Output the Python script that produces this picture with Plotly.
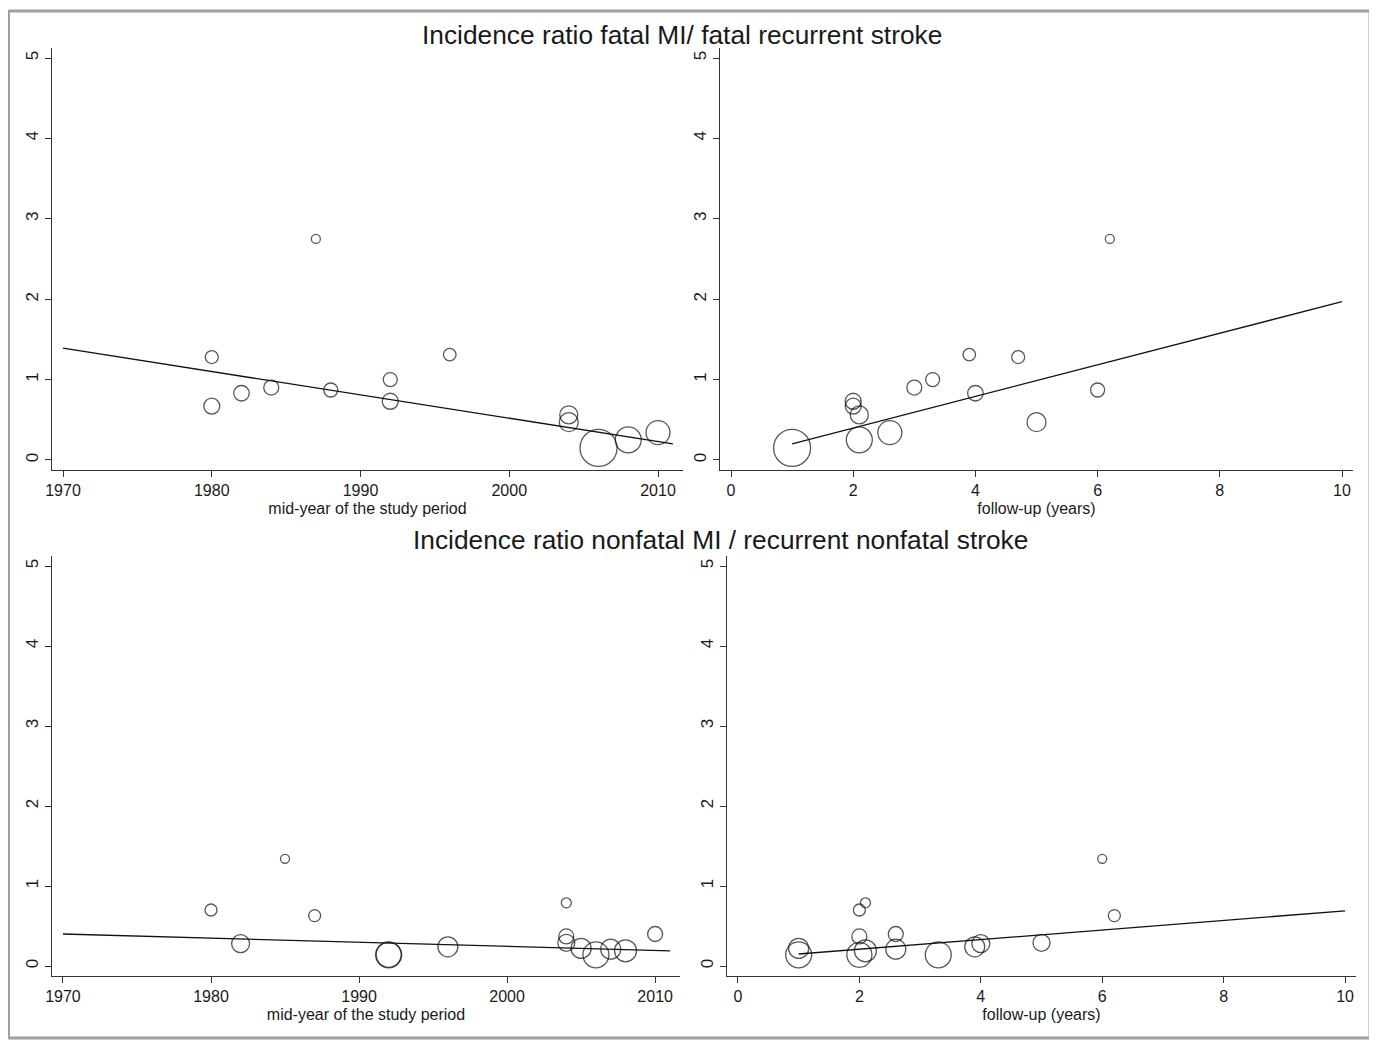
import plotly.graph_objects as go

# ---- Fatal MI / fatal recurrent stroke (14 studies) ----
fatal_midyear = [1980, 1980, 1982, 1984, 1987, 1988, 1992, 1992, 1996, 2004, 2004, 2006, 2008, 2010]
fatal_followup = [4.7, 2.0, 4.0, 3.0, 6.2, 6.0, 3.3, 2.0, 3.9, 2.1, 5.0, 1.0, 2.1, 2.6]
fatal_ratio = [1.28, 0.67, 0.83, 0.90, 2.75, 0.87, 1.00, 0.73, 1.31, 0.56, 0.47, 0.15, 0.25, 0.34]
fatal_weight = [13, 16, 15.5, 15, 9, 14, 14, 16, 12.5, 18, 19, 37, 26, 24]

# ---- Nonfatal MI / recurrent nonfatal stroke (15 studies) ----
nonfatal_midyear = [1980, 1982, 1985, 1987, 1992, 1992, 1996, 2004, 2004, 2004, 2005, 2006, 2007, 2008, 2010]
nonfatal_followup = [2.0, 4.0, 6.0, 6.2, 2.0, 3.3, 3.9, 2.1, 2.0, 5.0, 1.0, 1.0, 2.6, 2.1, 2.6]
nonfatal_ratio = [0.70, 0.28, 1.34, 0.63, 0.14, 0.14, 0.24, 0.79, 0.37, 0.29, 0.22, 0.14, 0.21, 0.19, 0.40]
nonfatal_weight = [12, 18, 9, 12, 25, 26, 20, 10, 15, 17, 20, 26, 20, 22, 15]

# ---- fitted meta-regression lines ----
fit_year_x = [1970, 2011]
fit_fatal_year_y = [1.39, 0.20]
fit_nonfatal_year_y = [0.40, 0.19]
fit_fu_x = [1, 10]
fit_fatal_fu_y = [0.20, 1.97]
fit_nonfatal_fu_y = [0.15, 0.69]

year_ticks = [1970, 1980, 1990, 2000, 2010]
fu_ticks = [0, 2, 4, 6, 8, 10]
y_ticks = [0, 1, 2, 3, 4, 5]

# page offset from the default body margin
OFF = 8
W, H = 1377 - OFF, 1040 - OFF
FONT = "Liberation Sans, Arial, Helvetica, sans-serif"
AX = "#333333"
TXT = "#1a1a1a"

fig = go.Figure()

panels = [
    ("x", "y", fatal_midyear, fatal_ratio, fatal_weight, fit_year_x, fit_fatal_year_y),
    ("x2", "y2", fatal_followup, fatal_ratio, fatal_weight, fit_fu_x, fit_fatal_fu_y),
    ("x3", "y3", nonfatal_midyear, nonfatal_ratio, nonfatal_weight, fit_year_x, fit_nonfatal_year_y),
    ("x4", "y4", nonfatal_followup, nonfatal_ratio, nonfatal_weight, fit_fu_x, fit_nonfatal_fu_y),
]

for xa, ya, xs, ys, ws, fx, fy in panels:
    fig.add_trace(go.Scatter(
        x=xs, y=ys, mode="markers", xaxis=xa, yaxis=ya,
        marker=dict(size=ws, sizemode="diameter", color="rgba(0,0,0,0)",
                    line=dict(color="#111111", width=1.3)),
        showlegend=False, hoverinfo="x+y"))
    fig.add_trace(go.Scatter(
        x=fx, y=fy, mode="lines", xaxis=xa, yaxis=ya,
        line=dict(color="#111111", width=1.3),
        showlegend=False, hoverinfo="skip"))

def px_x(a, b):
    return [(a - OFF) / W, (b - OFF) / W]

def px_y(top, bottom):
    return [1 - (bottom - OFF) / H, 1 - (top - OFF) / H]

def pxx(a):
    return (a - OFF) / W

def pxy(a):
    return 1 - (a - OFF) / H

common_x = dict(showline=True, linecolor=AX, linewidth=1.3, ticks="outside", ticklen=6,
                tickcolor=AX, tickwidth=1.2, showgrid=False, zeroline=False, automargin=False,
                tickfont=dict(family=FONT, size=16, color=TXT),
                title_font=dict(family=FONT, size=16, color=TXT), title_standoff=4)
common_y = dict(showline=True, linecolor=AX, linewidth=1.3, ticks="outside", ticklen=6,
                tickcolor=AX, tickwidth=1.2, showgrid=False, zeroline=False, automargin=False,
                tickvals=y_ticks, tickangle=-90, range=[-0.125, 5.125],
                tickfont=dict(family=FONT, size=17, color=TXT))

fig.update_layout(
    width=W, height=H,
    margin=dict(l=0, r=0, t=0, b=0, pad=0),
    paper_bgcolor="white", plot_bgcolor="white",
    xaxis=dict(domain=px_x(52, 683), range=[1969.26, 2011.68], tickvals=year_ticks,
               anchor="y", title_text="mid-year of the study period", **common_x),
    yaxis=dict(domain=px_y(48, 470), anchor="x", **common_y),
    xaxis2=dict(domain=px_x(720, 1353), range=[-0.18, 10.18], tickvals=fu_ticks,
                anchor="y2", title_text="follow-up (years)", **common_x),
    yaxis2=dict(domain=px_y(48, 470), anchor="x2", **common_y),
    xaxis3=dict(domain=px_x(52, 680), range=[1969.26, 2011.68], tickvals=year_ticks,
                anchor="y3", title_text="mid-year of the study period", **common_x),
    yaxis3=dict(domain=px_y(556, 976), anchor="x3", **common_y),
    xaxis4=dict(domain=px_x(727, 1356), range=[-0.18, 10.18], tickvals=fu_ticks,
                anchor="y4", title_text="follow-up (years)", **common_x),
    yaxis4=dict(domain=px_y(556, 976), anchor="x4", **common_y),
    annotations=[
        dict(text="Incidence ratio fatal MI/ fatal recurrent stroke", x=pxx(682), y=pxy(35),
             xref="paper", yref="paper", xanchor="center", yanchor="middle", showarrow=False,
             font=dict(family=FONT, size=26.3, color=TXT)),
        dict(text="Incidence ratio nonfatal MI / recurrent nonfatal stroke", x=pxx(720), y=pxy(540),
             xref="paper", yref="paper", xanchor="center", yanchor="middle", showarrow=False,
             font=dict(family=FONT, size=26.3, color=TXT)),
    ],
    shapes=[
        dict(type="rect", xref="paper", yref="paper", x0=pxx(8.5), x1=pxx(1370), y0=pxy(1038), y1=pxy(11),
             line=dict(color="#a0a0a0", width=3), fillcolor="rgba(0,0,0,0)", layer="below"),
        dict(type="line", xref="paper", yref="paper", x0=pxx(1373.5), x1=pxx(1373.5), y0=pxy(1040), y1=pxy(13),
             line=dict(color="#cfcfcf", width=4), layer="below"),
    ],
)

fig.write_html("out.html")
